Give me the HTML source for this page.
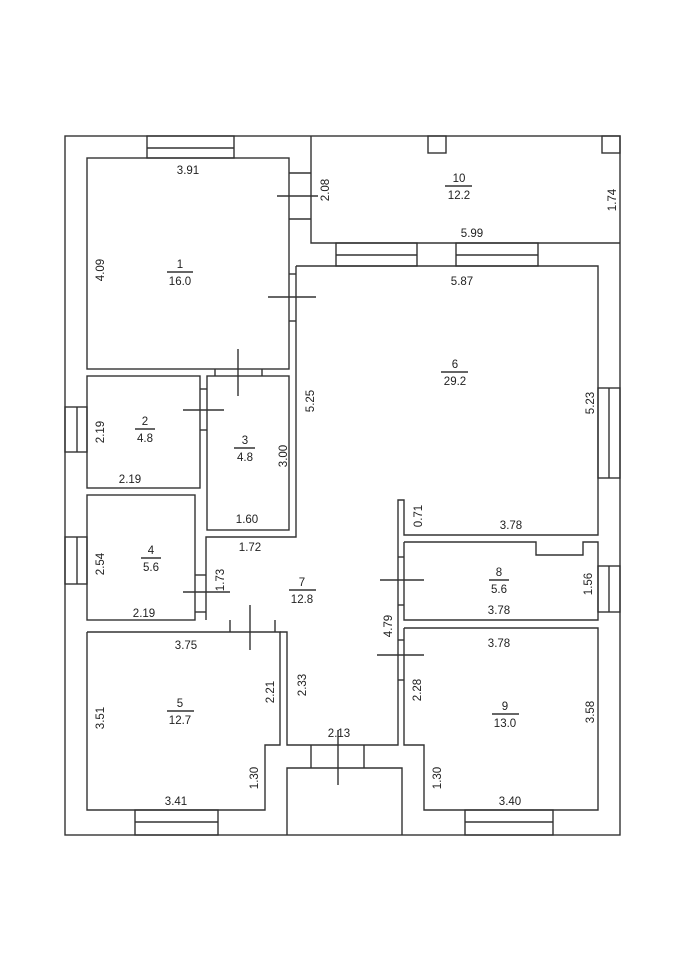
<!DOCTYPE html>
<html><head><meta charset="utf-8"><style>
html,body{margin:0;padding:0;background:#fff;}
svg{display:block;}
text{font-family:"Liberation Sans",sans-serif;font-size:11.5px;fill:#222;}
</style></head><body>
<svg width="678" height="960" viewBox="0 0 678 960" xmlns="http://www.w3.org/2000/svg">
<g fill="none" stroke="#333" stroke-width="1.4">
<!-- outer -->
<rect x="65" y="136" width="555" height="699"/>
<!-- room 1 -->
<rect x="87" y="158" width="202" height="211"/>
<!-- room 10 -->
<polyline points="311,136 311,243 620,243"/>
<rect x="428" y="136" width="18" height="17"/>
<rect x="602" y="136" width="18" height="17"/>
<!-- windows -->
<rect x="147" y="136" width="87" height="22"/><line x1="147" y1="148" x2="234" y2="148"/>
<rect x="65" y="407" width="22" height="45"/><line x1="77" y1="407" x2="77" y2="452"/>
<rect x="65" y="537" width="22" height="47"/><line x1="77" y1="537" x2="77" y2="584"/>
<rect x="598" y="388" width="22" height="90"/><line x1="609" y1="388" x2="609" y2="478"/>
<rect x="598" y="566" width="22" height="46"/><line x1="609" y1="566" x2="609" y2="612"/>
<rect x="135" y="810" width="83" height="25"/><line x1="135" y1="822" x2="218" y2="822"/>
<rect x="465" y="810" width="88" height="25"/><line x1="465" y1="822" x2="553" y2="822"/>
<rect x="336" y="243" width="81" height="23"/><line x1="336" y1="255" x2="417" y2="255"/>
<rect x="456" y="243" width="82" height="23"/><line x1="456" y1="255" x2="538" y2="255"/>
<!-- room1/10 opening -->
<line x1="289" y1="173" x2="311" y2="173"/><line x1="289" y1="219" x2="311" y2="219"/>
<line x1="277" y1="196" x2="318" y2="196"/>
<!-- room 6/7 combined -->
<polyline points="296,266 598,266 598,535 404,535 404,500 398,500 398,745 287,745 287,632 280,632"/>
<polyline points="296,266 296,537 206,537 206,620"/>
<line x1="289" y1="274" x2="296" y2="274"/><line x1="289" y1="321" x2="296" y2="321"/>
<line x1="268" y1="297" x2="316" y2="297"/>
<!-- room 2,3 -->
<rect x="87" y="376" width="113" height="112"/>
<rect x="207" y="376" width="82" height="154"/>
<line x1="200" y1="389" x2="207" y2="389"/><line x1="200" y1="430" x2="207" y2="430"/>
<line x1="183" y1="410" x2="224" y2="410"/>
<line x1="215" y1="369" x2="215" y2="376"/><line x1="262" y1="369" x2="262" y2="376"/>
<line x1="238" y1="349" x2="238" y2="396"/>
<!-- room 4 -->
<rect x="87" y="495" width="108" height="125"/>
<line x1="195" y1="575" x2="206" y2="575"/><line x1="195" y1="612" x2="206" y2="612"/>
<line x1="183" y1="592" x2="230" y2="592"/>
<!-- room 5 -->
<polyline points="87,632 280,632 280,745 265,745 265,810 87,810 87,632"/>
<line x1="230" y1="620" x2="230" y2="632"/><line x1="275" y1="620" x2="275" y2="632"/>
<line x1="250" y1="605" x2="250" y2="650"/>
<!-- room 8 -->
<polyline points="404,542 536,542 536,555 583,555 583,542 598,542 598,620 404,620 404,542"/>
<line x1="398" y1="557" x2="404" y2="557"/><line x1="398" y1="605" x2="404" y2="605"/>
<line x1="380" y1="580" x2="424" y2="580"/>
<!-- room 9 -->
<polyline points="404,628 598,628 598,810 424,810 424,745 404,745 404,628"/>
<line x1="398" y1="640" x2="404" y2="640"/><line x1="398" y1="680" x2="404" y2="680"/>
<line x1="377" y1="655" x2="424" y2="655"/>
<!-- entrance -->
<polyline points="287,835 287,768 402,768 402,835"/>
<line x1="311" y1="745" x2="311" y2="768"/><line x1="364" y1="745" x2="364" y2="768"/>
<line x1="338" y1="730" x2="338" y2="785"/>
<!-- fraction bars -->
<line x1="167" y1="272" x2="193" y2="272"/>
<line x1="445" y1="186" x2="472" y2="186"/>
<line x1="441" y1="372" x2="468" y2="372"/>
<line x1="135" y1="429" x2="155" y2="429"/>
<line x1="234" y1="448" x2="255" y2="448"/>
<line x1="141" y1="558" x2="161" y2="558"/>
<line x1="289" y1="590" x2="316" y2="590"/>
<line x1="489" y1="580" x2="509" y2="580"/>
<line x1="167" y1="711" x2="194" y2="711"/>
<line x1="492" y1="714" x2="519" y2="714"/>
</g>
<g text-anchor="middle">
<text x="180" y="268">1</text><text x="180" y="285">16.0</text>
<text x="459" y="182">10</text><text x="459" y="199">12.2</text>
<text x="455" y="368">6</text><text x="455" y="385">29.2</text>
<text x="145" y="425">2</text><text x="145" y="442">4.8</text>
<text x="245" y="444">3</text><text x="245" y="461">4.8</text>
<text x="151" y="554">4</text><text x="151" y="571">5.6</text>
<text x="302" y="586">7</text><text x="302" y="603">12.8</text>
<text x="499" y="576">8</text><text x="499" y="593">5.6</text>
<text x="180" y="707">5</text><text x="180" y="724">12.7</text>
<text x="505" y="710">9</text><text x="505" y="727">13.0</text>
<text x="188" y="174">3.91</text>
<text x="472" y="237">5.99</text>
<text x="462" y="285">5.87</text>
<text x="130" y="483">2.19</text>
<text x="247" y="523">1.60</text>
<text x="250" y="551">1.72</text>
<text x="511" y="529">3.78</text>
<text x="144" y="617">2.19</text>
<text x="499" y="614">3.78</text>
<text x="499" y="647">3.78</text>
<text x="186" y="649">3.75</text>
<text x="339" y="737">2.13</text>
<text x="176" y="805">3.41</text>
<text x="510" y="805">3.40</text>
</g>
<g text-anchor="middle">
<text transform="translate(329,190) rotate(-90)">2.08</text>
<text transform="translate(616,200) rotate(-90)">1.74</text>
<text transform="translate(104,270) rotate(-90)">4.09</text>
<text transform="translate(314,401) rotate(-90)">5.25</text>
<text transform="translate(594,403) rotate(-90)">5.23</text>
<text transform="translate(104,432) rotate(-90)">2.19</text>
<text transform="translate(287,456) rotate(-90)">3.00</text>
<text transform="translate(422,516) rotate(-90)">0.71</text>
<text transform="translate(104,564) rotate(-90)">2.54</text>
<text transform="translate(224,580) rotate(-90)">1.73</text>
<text transform="translate(592,584) rotate(-90)">1.56</text>
<text transform="translate(392,626) rotate(-90)">4.79</text>
<text transform="translate(274,692) rotate(-90)">2.21</text>
<text transform="translate(306,685) rotate(-90)">2.33</text>
<text transform="translate(421,690) rotate(-90)">2.28</text>
<text transform="translate(104,718) rotate(-90)">3.51</text>
<text transform="translate(594,712) rotate(-90)">3.58</text>
<text transform="translate(258,778) rotate(-90)">1.30</text>
<text transform="translate(441,778) rotate(-90)">1.30</text>
</g>
</svg>
</body></html>
